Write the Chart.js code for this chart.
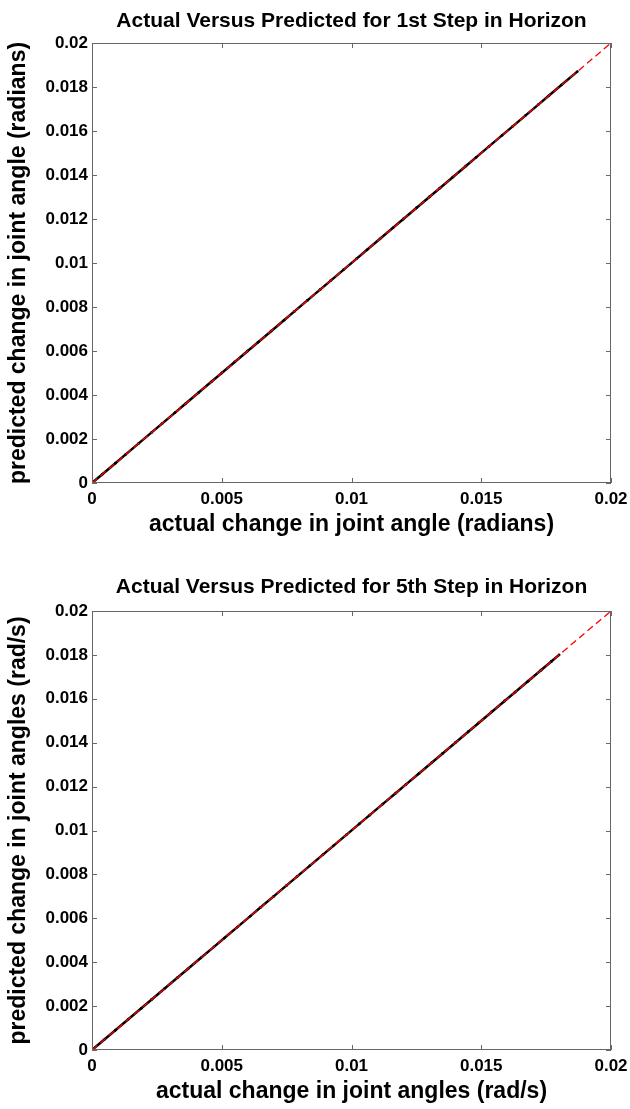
<!DOCTYPE html>
<html>
<head>
<meta charset="utf-8">
<script src="https://cdn.jsdelivr.net/npm/chart.js@4.4.1/dist/chart.umd.min.js"></script>
<style>
    body { margin: 0; background: #fff; }
    .panel { position: relative; width: 630px; height: 554px; }
    #panel2 { margin-top: 1px; }
    canvas { display: block; }
</style>
</head>
<body>
<div class="panel" id="panel1"><canvas id="chart1" width="630" height="554"></canvas></div>
<div class="panel" id="panel2"><canvas id="chart2" width="630" height="554"></canvas></div>
<script>
// 1st step in horizon (radians)
const actual1 = [0, 0.0004, 0.0009, 0.0013, 0.0018, 0.0023, 0.0027, 0.0032, 0.0036, 0.0041,
    0.0046, 0.0050, 0.0055, 0.0060, 0.0064, 0.0069, 0.0074, 0.0078, 0.0083, 0.0088,
    0.0092, 0.0097, 0.0102, 0.0106, 0.0111, 0.0116, 0.0120, 0.0125, 0.0130, 0.0134,
    0.0139, 0.0144, 0.0148, 0.0153, 0.0158, 0.0162, 0.0167, 0.0172, 0.0176, 0.0181, 0.0187];
const predicted1 = [0, 0.0004, 0.0009, 0.0013, 0.0018, 0.0023, 0.0027, 0.0032, 0.0036, 0.0041,
    0.0046, 0.0050, 0.0055, 0.0060, 0.0064, 0.0069, 0.0074, 0.0078, 0.0083, 0.0088,
    0.0092, 0.0097, 0.0102, 0.0106, 0.0111, 0.0116, 0.0120, 0.0125, 0.0130, 0.0134,
    0.0139, 0.0144, 0.0148, 0.0153, 0.0158, 0.0162, 0.0167, 0.0172, 0.0176, 0.0181, 0.0187];

// 5th step in horizon (rad/s)
const actual5 = [0, 0.0005, 0.0009, 0.0014, 0.0019, 0.0023, 0.0028, 0.0033, 0.0037, 0.0042,
    0.0047, 0.0051, 0.0056, 0.0061, 0.0065, 0.0070, 0.0075, 0.0079, 0.0084, 0.0089,
    0.0093, 0.0098, 0.0103, 0.0107, 0.0112, 0.0117, 0.0121, 0.0126, 0.0131, 0.0135,
    0.0140, 0.0145, 0.0149, 0.0154, 0.0159, 0.0163, 0.0168, 0.0173, 0.0177, 0.0180];
const predicted5 = [0, 0.0005, 0.0009, 0.0014, 0.0019, 0.0023, 0.0028, 0.0033, 0.0037, 0.0042,
    0.0047, 0.0051, 0.0056, 0.0061, 0.0065, 0.0070, 0.0075, 0.0079, 0.0084, 0.0089,
    0.0093, 0.0098, 0.0103, 0.0107, 0.0112, 0.0117, 0.0121, 0.0126, 0.0131, 0.0135,
    0.0140, 0.0145, 0.0149, 0.0154, 0.0159, 0.0163, 0.0168, 0.0173, 0.0177, 0.0180];

// ideal y = x reference
const idealLine = [0, 0.02];

const xTicks = [0, 0.005, 0.01, 0.015, 0.02];
const yTicks = [0, 0.002, 0.004, 0.006, 0.008, 0.01, 0.012, 0.014, 0.016, 0.018, 0.02];

const FONT = '"Liberation Sans", Arial, Helvetica, sans-serif';

// MATLAB style box with inward ticks on all four sides
const boxTicks = {
    id: 'boxTicks',
    afterDraw(chart) {
        const { ctx, chartArea: a, scales } = chart;
        const len = 5;
        ctx.save();
        ctx.strokeStyle = '#666';
        ctx.lineWidth = 1;
        ctx.strokeRect(a.left + 0.5, a.top + 0.5, a.right - a.left - 1, a.bottom - a.top - 1);
        ctx.beginPath();
        xTicks.forEach((v) => {
            const px = Math.round(scales.x.getPixelForValue(v)) + 0.5;
            ctx.moveTo(px, a.bottom); ctx.lineTo(px, a.bottom - len);
            ctx.moveTo(px, a.top); ctx.lineTo(px, a.top + len);
        });
        yTicks.forEach((v) => {
            const py = Math.round(scales.y.getPixelForValue(v)) + 0.5;
            ctx.moveTo(a.left, py); ctx.lineTo(a.left + len, py);
            ctx.moveTo(a.right, py); ctx.lineTo(a.right - len, py);
        });
        ctx.stroke();
        ctx.restore();
    },
};

function makeChart(id, actual, predicted, cfg) {
    const pts = actual.map((x, i) => ({ x: x, y: predicted[i] }));
    const ideal = idealLine.map((v) => ({ x: v, y: v }));
    return new Chart(document.getElementById(id), {
        type: 'scatter',
        data: {
            datasets: [
                {
                    label: 'ideal',
                    data: ideal,
                    showLine: true,
                    borderColor: '#ff0000',
                    borderWidth: 1.3,
                    borderDash: [7, 4],
                    pointRadius: 0,
                    order: 0,
                },
                {
                    label: 'data',
                    data: pts,
                    showLine: true,
                    borderColor: '#000',
                    borderWidth: 2.5,
                    backgroundColor: '#000',
                    pointRadius: 1.4,
                    pointBorderWidth: 0,
                    order: 1,
                },
            ],
        },
        options: {
            responsive: false,
            animation: false,
            layout: { padding: { left: 0, right: 19, top: 0, bottom: 0 } },
            plugins: {
                legend: { display: false },
                tooltip: { enabled: false },
                title: {
                    display: true,
                    fullSize: false,
                    text: cfg.title,
                    color: '#000',
                    font: { family: FONT, size: 21, weight: 'bold', lineHeight: 1.2 },
                    padding: { top: cfg.titleTop, bottom: cfg.titleBottom },
                },
            },
            scales: {
                x: {
                    type: 'linear',
                    min: 0,
                    max: 0.02,
                    afterBuildTicks: (s) => { s.ticks = xTicks.map((v) => ({ value: v })); },
                    afterFit: (s) => {
                        s.height = cfg.xHeight;
                        s.paddingLeft = 0;
                        s.paddingRight = 0;
                    },
                    grid: { display: false, drawTicks: false },
                    border: { display: false },
                    ticks: {
                        color: '#000',
                        padding: 6,
                        maxRotation: 0,
                        font: { family: FONT, size: 17, weight: 'bold' },
                        callback: (v) => String(v),
                    },
                    title: {
                        display: true,
                        text: cfg.xLabel,
                        color: '#000',
                        font: { family: FONT, size: 23, weight: 'bold', lineHeight: 1.2 },
                        padding: { top: 0, bottom: cfg.xTitleBottom },
                    },
                },
                y: {
                    type: 'linear',
                    min: 0,
                    max: 0.02,
                    afterBuildTicks: (s) => { s.ticks = yTicks.map((v) => ({ value: v })); },
                    afterFit: (s) => {
                        s.width = 92;
                        s.paddingTop = 0;
                        s.paddingBottom = 0;
                    },
                    grid: { display: false, drawTicks: false },
                    border: { display: false },
                    ticks: {
                        color: '#000',
                        padding: 4,
                        font: { family: FONT, size: 17, weight: 'bold' },
                        callback: (v) => String(v),
                    },
                    title: {
                        display: true,
                        text: cfg.yLabel,
                        color: '#000',
                        font: { family: FONT, size: 23, weight: 'bold', lineHeight: 1.2 },
                        padding: { top: 5, bottom: 0 },
                    },
                },
            },
        },
        plugins: [boxTicks],
    });
}

makeChart('chart1', actual1, predicted1, {
    title: 'Actual Versus Predicted for 1st Step in Horizon',
    xLabel: 'actual change in joint angle (radians)',
    yLabel: 'predicted change in joint angle (radians)',
    titleTop: 8.4,
    titleBottom: 9.4,
    xHeight: 71,
    xTitleBottom: 15.2,
});

makeChart('chart2', actual5, predicted5, {
    title: 'Actual Versus Predicted for 5th Step in Horizon',
    xLabel: 'actual change in joint angles (rad/s)',
    yLabel: 'predicted change in joint angles (rad/s)',
    titleTop: 19.4,
    titleBottom: 11.4,
    xHeight: 59,
    xTitleBottom: 3.2,
});
</script>
</body>
</html>
